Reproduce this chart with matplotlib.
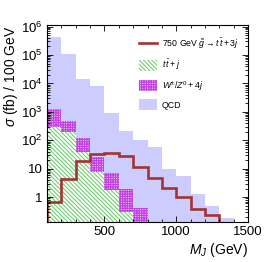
import math
import matplotlib
matplotlib.use("Agg")
import matplotlib.pyplot as plt
from matplotlib.lines import Line2D
from matplotlib.patches import Patch
from matplotlib.ticker import FuncFormatter, LogLocator, MultipleLocator, NullFormatter

plt.rcParams['font.family'] = ['Liberation Sans', 'DejaVu Sans']
plt.rcParams['mathtext.fontset'] = 'custom'
plt.rcParams['mathtext.rm'] = 'Liberation Sans'
plt.rcParams['mathtext.it'] = 'Liberation Sans:italic'
plt.rcParams['mathtext.bf'] = 'Liberation Sans:bold'
plt.rcParams['hatch.linewidth'] = 0.8

# bin edges in GeV (100 GeV bins)
edges = [100, 200, 300, 400, 500, 600, 700, 800, 900, 1000, 1100, 1200, 1300, 1400]

# cross sections, fb / 100 GeV
qcd = [4.2e5, 1.07e5, 1.45e4, 8.2e3, 950, 220, 100, 60, 10, 5.5, 1.3, 0.5, 0.18]
wz = [1250, 460, 120, 25, 7, 1.9, 0.41]
ttj = [300, 200, 40, 8, 1.8, 0.31]
signal = [0.7, 4.4, 18, 33, 37, 27, 12, 4.7, 2.1, 1.0, 0.38, 0.23]

red = '#a33333'
green = '#70d070'
purple = '#c040e0'
purple_bg = '#ebb8f3'
blue = '#ccccff'
green_hatch = '\\' * 8
wz_hatch = '+' * 7

fig = plt.figure(figsize=(2.76, 2.62), dpi=100)
ax = fig.add_axes([0.170, 0.153, 0.729, 0.750])

base = 1e-3
ax.stairs(qcd, edges[:len(qcd) + 1], baseline=base, fill=True,
          facecolor=blue, edgecolor=blue, linewidth=0)
ax.stairs(wz, edges[:len(wz) + 1], baseline=base, fill=True,
          facecolor=purple_bg, edgecolor=purple, hatch=wz_hatch, linewidth=0)
ax.stairs(ttj, edges[:len(ttj) + 1], baseline=base, fill=True,
          facecolor='white', edgecolor=green, hatch=green_hatch, linewidth=0)
ax.stairs(signal, edges[:len(signal) + 1], baseline=base, fill=False,
          color=red, linewidth=1.9)

ax.set_yscale('log')
ax.set_xlim(100, 1500)
ax.set_ylim(0.135, 1.1e6)

ax.xaxis.set_major_locator(MultipleLocator(500))
ax.xaxis.set_minor_locator(MultipleLocator(100))
ax.yaxis.set_major_locator(LogLocator(base=10, numticks=20))
ax.yaxis.set_minor_locator(LogLocator(base=10, subs=range(2, 10), numticks=20))
ax.yaxis.set_minor_formatter(NullFormatter())


def ylab(v, pos):
    if v < 0.5:
        return ''
    if v < 5:
        return '1'
    if v < 50:
        return '10'
    return r'$10^{%d}$' % int(round(math.log10(v)))


ax.yaxis.set_major_formatter(FuncFormatter(ylab))
ax.tick_params(which='both', direction='in', top=True, right=True,
               labelsize=9.5, width=0.6)
ax.tick_params(which='major', length=4, pad=3)
ax.tick_params(which='minor', length=2)
for s in ax.spines.values():
    s.set_linewidth(0.8)

ax.set_xlabel(r'$M_J$ (GeV)', fontsize=10, loc='right', labelpad=2)
ax.set_ylabel(r'$\sigma$ (fb) / 100 GeV', fontsize=10, loc='top', labelpad=1)

handles = [
    Line2D([], [], color=red, linewidth=1.9),
    Patch(facecolor='white', edgecolor=green, hatch=green_hatch, linewidth=0),
    Patch(facecolor=purple_bg, edgecolor=purple, hatch=wz_hatch, linewidth=0),
    Patch(facecolor=blue, edgecolor=blue, linewidth=0),
]
labels = [
    r'750 GeV $\tilde{g} \rightarrow t\,\bar{t} + 3j$',
    r'$t\,\bar{t} + j$',
    r'$W^{\pm}/Z^{0} + 4j$',
    'QCD',
]
ax.legend(handles, labels, loc='upper left', bbox_to_anchor=(0.459, 0.944),
          frameon=False, fontsize=6.3, borderpad=0, borderaxespad=0,
          handlelength=2.0, handleheight=1.55, handletextpad=0.55,
          labelspacing=0.75)

fig.savefig('out.png', dpi=100)
